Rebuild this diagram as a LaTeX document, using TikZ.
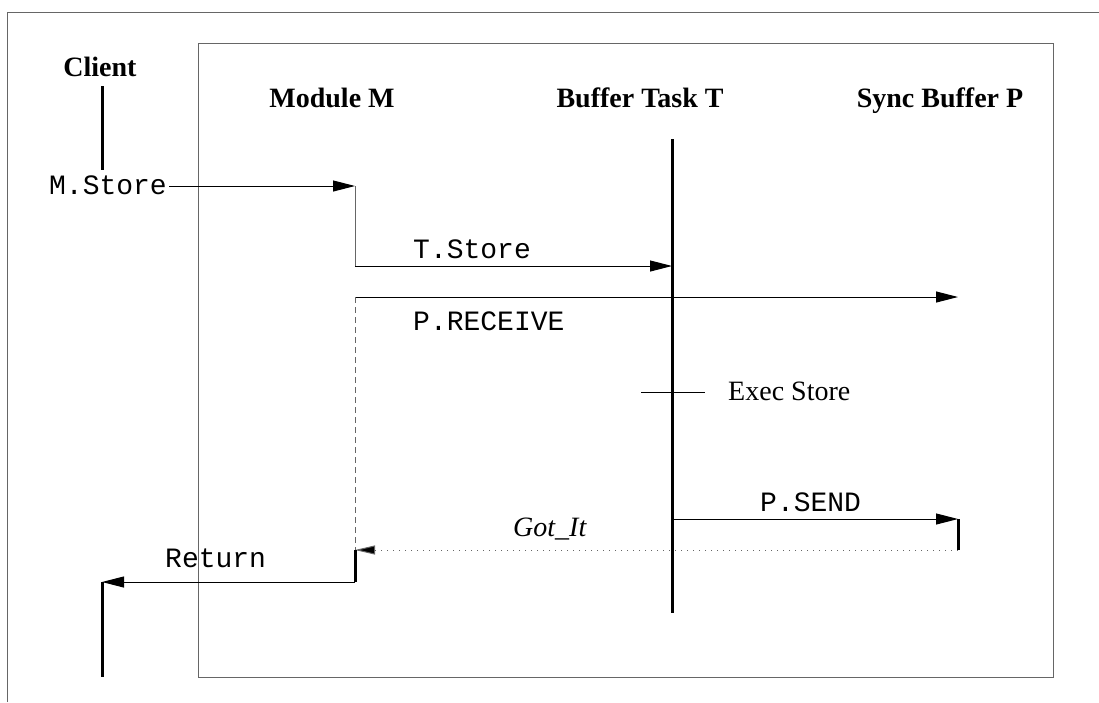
\documentclass[tikz,border=0pt]{standalone}
\usepackage{fontspec}
\setmainfont{Liberation Serif}
\newfontfamily\cour{Liberation Mono}
\usetikzlibrary{arrows.meta}
\begin{document}
\begin{tikzpicture}[x=1pt,y=-1pt,
  frame/.style={draw=black!60,line width=1pt},
  msg/.style={draw=black,line width=1pt,-{Triangle[length=22pt,width=11pt]}},
  gmsg/.style={draw=black!60,line width=1pt},
  life/.style={draw=black,line width=3pt},
  head/.style={font=\fontsize{28}{30}\selectfont\bfseries,inner sep=0pt},
  mono/.style={font=\fontsize{28}{30}\selectfont\cour,inner sep=0pt},
  lbl/.style={font=\fontsize{28}{30}\selectfont,inner sep=0pt}]
\useasboundingbox (0,0) rectangle (1099,702);
% frames
\draw[frame] (7,702) -- (7,12) -- (1099,12);
\draw[frame] (198,43) rectangle (1053,677);
% headers
\node[head,anchor=base] (hclient) at (100,76) {Client};
\node[head,anchor=base] (hmod) at (332,107) {Module M};
\node[head,anchor=base] (htask) at (640,107) {Buffer Task T};
\node[head,anchor=base] (hsync) at (940,107) {Sync Buffer P};
% coordinates
\coordinate (c1) at (102,86);
\coordinate (c2) at (102,170);
\coordinate (m1) at (355,186);
\coordinate (m2) at (355,266);
\coordinate (t1) at (672,139);
\coordinate (t2) at (672,613);
\coordinate (ts) at (672,266);
\coordinate (r1) at (355,297);
\coordinate (r2) at (958,297);
\coordinate (e1) at (641,392);
\coordinate (e2) at (705,392);
\coordinate (s1) at (672,519);
\coordinate (s2) at (958,519);
\coordinate (s3) at (958,550);
\coordinate (g2) at (355,550);
\coordinate (rt1) at (355,582);
\coordinate (rt2) at (102,582);
\coordinate (cb) at (102,677);
% labels
\node[mono,anchor=base east] (lmstore) at (167,194) {M.Store};
\node[mono,anchor=base west] (ltstore) at (413,258) {T.Store};
\node[mono,anchor=base west] (lrecv) at (413,330) {P.RECEIVE};
\node[lbl,anchor=base west] (lexec) at (728,400) {Exec Store};
\node[mono,anchor=base west] (lsend) at (760,511) {P.SEND};
\node[lbl,anchor=base west,font=\fontsize{28}{30}\selectfont\itshape] (lgot) at (513,536) {Got\_It};
\node[mono,anchor=base west] (lret) at (165,567) {Return};
% lifelines
\draw[life] (c1) -- (c2);
\draw[life] (t1) -- (t2);
% messages
\draw[msg] (lmstore.east |- m1) ++(2,0) -- (m1);
\draw[gmsg] (m1) -- (m2);
\draw[msg] (m2) -- (ts);
\draw[msg] (r1) -- (r2);
\draw[draw=black!60,line width=1pt,dash pattern=on 6pt off 4pt] (r1) -- (g2);
\draw[line width=1pt] (e1) -- (e2);
\draw[msg] (s1) -- (s2);
\draw[life] (s2) -- (s3);
\draw[draw=black!60,line width=1pt,dash pattern=on 1.5pt off 4.5pt,-{Triangle[length=20pt,width=9pt,fill=black]}] (s3) -- (g2);
\draw[life] (g2) -- (rt1);
\draw[msg] (rt1) -- (rt2);
\draw[life] (rt2) -- (cb);
\end{tikzpicture}
\end{document}
